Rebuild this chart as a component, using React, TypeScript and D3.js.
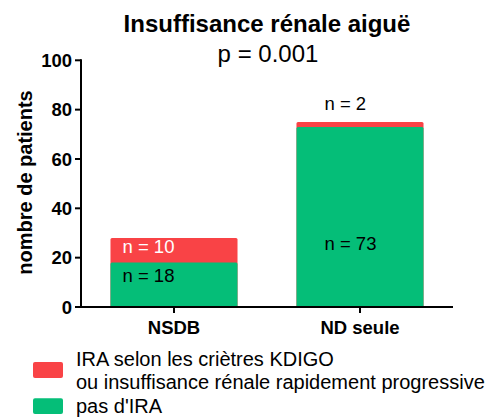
import React from "react";
import * as d3 from "d3";

const categories = ["NSDB", "ND seule"];
const noIRA = [18, 73];
const IRA = [10, 2];
const yTicks = [0, 20, 40, 60, 80, 100];
const seriesNames = ["IRA selon les criètres KDIGO", "ou insuffisance rénale rapidement progressive", "pas d'IRA"];

const RED = "#F94346";
const GREEN = "#05BE78";
const FONT = "'Liberation Sans', Arial, Helvetica, sans-serif";

export default function App() {
  const W = 503, H = 417;
  const left = 81, right = 453, top = 60.3, bottom = 307;
  const y = d3.scaleLinear().domain([0, 100]).range([bottom, top]);
  const x = d3.scaleBand().domain(categories).range([left, right]).paddingInner(0.317).paddingOuter(0.1585);
  const bw = x.bandwidth();

  return (
    <svg width={W} height={H} style={{ position: "absolute", left: 0, top: 0 }} fontFamily={FONT}>
      <text x={267} y={31.5} textAnchor="middle" fontSize={24} fontWeight="bold">Insuffisance rénale aiguë</text>
      <text x={268} y={62} textAnchor="middle" fontSize={24}>p = 0.001</text>

      {categories.map((c, i) => {
        const x0 = x(c)!;
        const g = noIRA[i], r = IRA[i];
        return (
          <g key={c}>
            <rect x={x0} y={y(g + r)} width={bw} height={y(0) - y(g + r)} fill={RED} rx={1.5} />
            <rect x={x0} y={y(g)} width={bw} height={y(0) - y(g)} fill={GREEN} rx={1.5} />
          </g>
        );
      })}

      {/* value labels */}
      <text x={x("NSDB")! + 12} y={253.3} fontSize={18.5} fill="#fff">n = {IRA[0]}</text>
      <text x={x("NSDB")! + 12} y={281.7} fontSize={18.5} fill="#000">n = {noIRA[0]}</text>
      <text x={x("ND seule")! + 28} y={250} fontSize={18.5} fill="#000">n = {noIRA[1]}</text>
      <text x={x("ND seule")! + 28} y={110} fontSize={18.5} fill="#000">n = {IRA[1]}</text>

      {/* y axis */}
      <line x1={left} x2={left} y1={top - 1} y2={bottom} stroke="#000" strokeWidth={2} />
      {yTicks.map(t => (
        <g key={t}>
          <line x1={left - 6} x2={left} y1={y(t)} y2={y(t)} stroke="#000" strokeWidth={2} />
          <text x={left - 9} y={y(t) + 6.7} textAnchor="end" fontSize={18.5} fontWeight="bold">{t}</text>
        </g>
      ))}
      <text transform={`translate(31.5,182.5) rotate(-90)`} textAnchor="middle" fontSize={20} fontWeight="bold">nombre de patients</text>

      {/* x axis */}
      <line x1={left - 1} x2={right} y1={bottom} y2={bottom} stroke="#000" strokeWidth={2} />
      {categories.map(c => (
        <g key={c}>
          <line x1={x(c)! + bw / 2} x2={x(c)! + bw / 2} y1={bottom} y2={bottom + 6} stroke="#000" strokeWidth={2} />
          <text x={x(c)! + bw / 2} y={334} textAnchor="middle" fontSize={18.5} fontWeight="bold">{c}</text>
        </g>
      ))}

      {/* legend */}
      <rect x={33} y={362} width={30} height={16} rx={2} fill={RED} />
      <rect x={33} y={398.3} width={30} height={15.7} rx={2} fill={GREEN} />
      <text x={76} y={366} fontSize={20}>{seriesNames[0]}</text>
      <text x={76} y={388.5} fontSize={20}>{seriesNames[1]}</text>
      <text x={76} y={412.7} fontSize={20}>{seriesNames[2]}</text>
    </svg>
  );
}
